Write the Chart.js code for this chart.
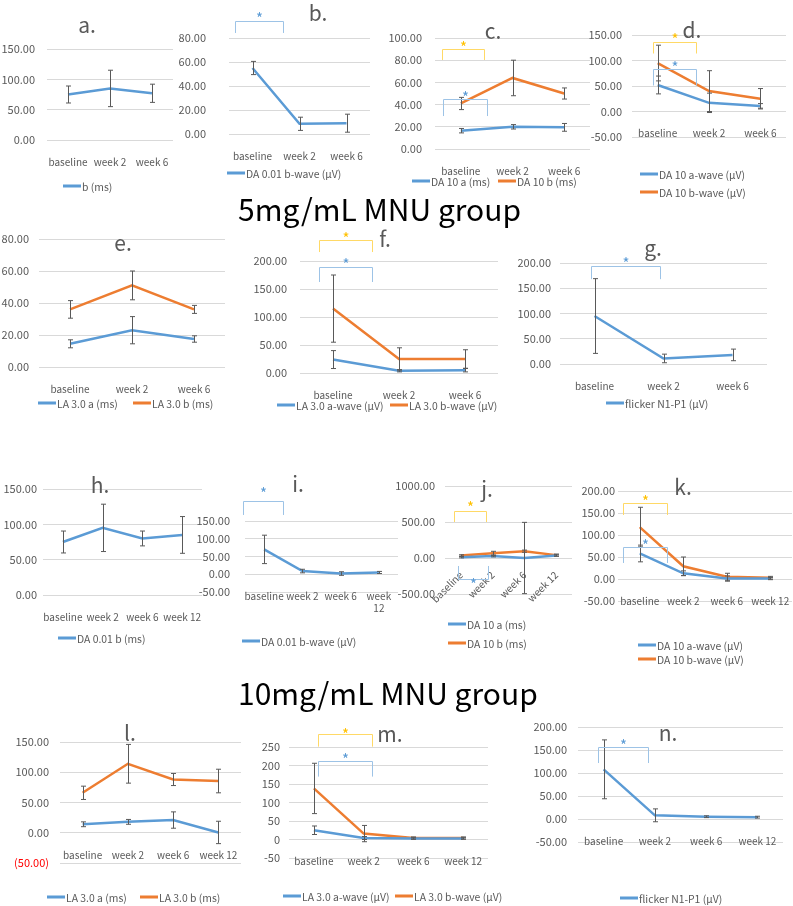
<!DOCTYPE html>
<html>
<head>
<meta charset="utf-8">
<script src="https://cdn.jsdelivr.net/npm/chart.js@4.4.0/dist/chart.umd.min.js"></script>
<style>
body { margin: 0; background: #fff; width: 793px; height: 906px; position: relative; overflow: hidden;
       font-family: "Noto Sans CJK KR", "Noto Sans", sans-serif; }
canvas { position: absolute; }
.ttl { position: absolute; color: #595959; font-size: 21px; transform: translate(-50%, -50%); white-space: nowrap; }
.grp { position: absolute; color: #000; font-size: 30px; transform: translateY(-50%); white-space: nowrap; }
.lg { position: absolute; color: #595959; font-size: 10.4px; transform: translateY(-50%); white-space: nowrap;
      display: flex; align-items: center; }
.lg i { display: inline-block; width: 18px; height: 2.5px; margin-right: 1px; }
</style>
</head>
<body>
<script>
const BLUE = '#5B9BD5';
const ORANGE = '#ED7D31';
const FONT = '"Noto Sans CJK KR", "Noto Sans", sans-serif';

// categories
const weeks3 = ['baseline', 'week 2', 'week 6'];
const weeks4 = ['baseline', 'week 2', 'week 6', 'week 12'];
const weeks4wrap = ['baseline', 'week 2', 'week 6', ['week', '12']];

// 5mg/mL group
const aB = [75, 85, 77],        aBErr = [14, 30, 15];
const bB = [55, 8.5, 9],        bBErr = [5.5, 5.5, 7.5];
const cA = [16.5, 20, 19.5],    cAErr = [2, 2, 3.5];
const cB = [41, 64, 50],        cBErr = [5.5, 16, 5];
const dA = [52, 17, 11],        dAErr = [17.5, 19, 4.5];
const dB = [95, 40, 25],        dBErr = [35, 40, 20];
const eA = [14.5, 23, 17.5],    eAErr = [2.5, 8.5, 2];
const eB = [36, 51, 36],        eBErr = [5.5, 9, 2.5];
const fA = [24, 4, 5],          fAErr = [16, 2, 3];
const fB = [115, 25, 25],       fBErr = [60, 20, 16.5];
const gF = [95, 11, 18],        gFErr = [74, 8.5, 11.5];

// 10mg/mL group
const hB = [75, 95, 80, 85],    hBErr = [15.5, 33.5, 10.5, 26];
const iB = [70, 9, 2, 5],       iBErr = [40, 5, 5, 3];
const jA = [12, 28, 0, 35],     jAErr = [10, 12, 495, 10];
const jB = [35, 65, 95, 40],    jBErr = [10, 28, 15, 15];
const kA = [58, 13, 1, 1],      kAErr = [19, 5.5, 6, 2.5];
const kB = [118, 29, 5, 3],     kBErr = [45, 21, 8, 3];
const lA = [14, 18, 21, 0.5],   lAErr = [4, 4, 13.5, 18.5];
const lB = [66, 114, 88, 85.5], lBErr = [11, 32, 10, 19.5];
const mA = [25, 4, 3, 3],       mAErr = [11.5, 4, 2, 2];
const mB = [138, 16, 4, 4],     mBErr = [68, 22, 3, 3];
const nF = [108, 8, 5, 4],      nFErr = [64, 14, 2, 2];

// significance brackets, in category index / value units
const bSig = [{c: 'b', from: -0.37, to: 0.65, top: 94.2, bot: 84.2, star: 97.5}];
const cSig = [{c: 'y', from: -0.365, to: 0.448, top: 90.1, bot: 80.2, star: 92.8},
              {c: 'b', from: -0.345, to: 0.506, top: 45, bot: 29.7, star: 47.7}];
const dSig = [{c: 'y', from: -0.09, to: 0.747, top: 137, bot: 113.7, star: 145},
              {c: 'b', from: -0.09, to: 0.747, top: 82.4, bot: 51, star: 90}];
const fSig = [{c: 'y', from: -0.212, to: 0.591, top: 237.5, bot: 216, star: 243},
              {c: 'b', from: -0.212, to: 0.591, top: 189, bot: 162.5, star: 196}];
const gSig = [{c: 'b', from: -0.057, to: 0.946, top: 194, bot: 168, star: 202}];
const iSig = [{c: 'b', from: -0.552, to: 0.493, top: 206, bot: 167, star: 232}];
const jSig = [{c: 'y', from: -0.217, to: 0.791, top: 653, bot: 500, star: 722},
              {c: 'b', from: -0.09, to: 0.854, top: -292, bot: -111, star: -347}];
const kSig = [{c: 'y', from: -0.385, to: 0.626, top: 172.7, bot: 145.5, star: 179.5},
              {c: 'b', from: -0.385, to: 0.626, top: 72.7, bot: 36.4, star: 79.5}];
const mSig = [{c: 'y', from: 0.083, to: 1.168, top: 284, bot: 251, star: 289},
              {c: 'b', from: 0.083, to: 1.168, top: 211, bot: 170, star: 219}];
const nSig = [{c: 'b', from: -0.11, to: 0.866, top: 156.5, bot: 121.7, star: 163}];

const SIGCOL = {b: ['#9DC3E6', '#5B9BD5'], y: ['#FFD966', '#FFC000']};

// box = [left, right, top, bottom] of plot area in page px
const panels = [
  {t: 'a.', tp: [87, 24], box: [47, 173, 49, 140], y: [0, 150, 50], yPad: 12, cats: weeks3,
   series: [['b (ms)', aB, aBErr, BLUE]], leg: [[63, 186]]},
  {t: 'b.', tp: [318, 12], box: [229, 370, 38, 134], y: [0, 80, 20], yPad: 23, cats: weeks3, sig: bSig,
   series: [['DA 0.01 b-wave (μV)', bB, bBErr, BLUE]], leg: [[227, 173]]},
  {t: 'c.', tp: [493, 30], box: [435, 590, 38, 149], y: [0, 100, 20], yPad: 13, cats: weeks3, sig: cSig,
   series: [['DA 10 a (ms)', cA, cAErr, BLUE], ['DA 10 b (ms)', cB, cBErr, ORANGE]], leg: [[412, 181], [498, 181]]},
  {t: 'd.', tp: [692, 29], box: [632, 786, 35, 137], y: [-50, 150, 50], yPad: 10, cats: weeks3, sig: dSig,
   series: [['DA 10 a-wave (μV)', dA, dAErr, BLUE], ['DA 10 b-wave (μV)', dB, dBErr, ORANGE]], leg: [[640, 174], [640, 192]]},
  {t: 'e.', tp: [123, 242], box: [39, 225, 239, 367], y: [0, 80, 20], yPad: 10, cats: weeks3,
   series: [['LA 3.0 a (ms)', eA, eAErr, BLUE], ['LA 3.0 b (ms)', eB, eBErr, ORANGE]], leg: [[38, 403], [133, 403]]},
  {t: 'f.', tp: [385, 238], box: [300, 498, 261, 373], y: [0, 200, 50], yPad: 13, cats: weeks3, sig: fSig,
   series: [['LA 3.0 a-wave (μV)', fA, fAErr, BLUE], ['LA 3.0 b-wave (μV)', fB, fBErr, ORANGE]], leg: [[277, 405], [390, 405]]},
  {t: 'g.', tp: [653, 247], box: [560, 767, 263, 364], y: [0, 200, 50], yPad: 9, cats: weeks3, sig: gSig,
   series: [['flicker N1-P1 (μV)', gF, gFErr, BLUE]], leg: [[606, 403]]},
  {t: 'h.', tp: [100, 484], box: [43, 202, 489, 595], y: [0, 150, 50], yPad: 6, cats: weeks4,
   series: [['DA 0.01 b (ms)', hB, hBErr, BLUE]], leg: [[58, 638]]},
  {t: 'i.', tp: [298, 483], box: [245, 398, 521, 592], y: [-50, 150, 50], yPad: 15, cats: weeks4wrap, sig: iSig,
   series: [['DA 0.01 b-wave (μV)', iB, iBErr, BLUE]], leg: [[242, 641]]},
  {t: 'j.', tp: [487, 488], box: [445, 572, 486, 594], y: [-500, 1000, 500], yPad: 10, cats: weeks4, sig: jSig, rot: 45,
   series: [['DA 10 a (ms)', jA, jAErr, BLUE], ['DA 10 b (ms)', jB, jBErr, ORANGE]], leg: [[448, 624], [448, 643]]},
  {t: 'k.', tp: [683, 486], box: [618, 792, 491, 601], y: [-50, 200, 50], yPad: 3, cats: weeks4, sig: kSig,
   series: [['DA 10 a-wave (μV)', kA, kAErr, BLUE], ['DA 10 b-wave (μV)', kB, kBErr, ORANGE]], leg: [[638, 645], [638, 659]]},
  {t: 'l.', tp: [130, 732], box: [60, 241, 742, 863], y: [-50, 150, 50], yPad: 11, cats: weeks4, negRed: true,
   series: [['LA 3.0 a (ms)', lA, lAErr, BLUE], ['LA 3.0 b (ms)', lB, lBErr, ORANGE]], leg: [[47, 897], [140, 897]]},
  {t: 'm.', tp: [390, 733], box: [289, 488, 747, 858], y: [-50, 250, 50], yPad: 9, cats: weeks4, sig: mSig, ints: true,
   series: [['LA 3.0 a-wave (μV)', mA, mAErr, BLUE], ['LA 3.0 b-wave (μV)', mB, mBErr, ORANGE]], leg: [[283, 896], [395, 896]]},
  {t: 'n.', tp: [668, 732], box: [578, 783, 727, 842], y: [-50, 200, 50], yPad: 11, cats: weeks4, sig: nSig,
   series: [['flicker N1-P1 (μV)', nF, nFErr, BLUE]], leg: [[620, 898]]}
];

const errorBars = {
  id: 'errorBars',
  afterDatasetsDraw(chart) {
    const ctx = chart.ctx, ys = chart.scales.y;
    ctx.save();
    ctx.strokeStyle = '#595959';
    ctx.lineWidth = 1;
    chart.data.datasets.forEach((ds, i) => {
      if (!ds.err) return;
      chart.getDatasetMeta(i).data.forEach((pt, j) => {
        const x = Math.round(pt.x) + 0.5;
        const y1 = ys.getPixelForValue(ds.data[j] + ds.err[j]);
        const y2 = ys.getPixelForValue(ds.data[j] - ds.err[j]);
        ctx.beginPath();
        ctx.moveTo(x, y1); ctx.lineTo(x, y2);
        ctx.moveTo(x - 2.5, y1); ctx.lineTo(x + 2.5, y1);
        ctx.moveTo(x - 2.5, y2); ctx.lineTo(x + 2.5, y2);
        ctx.stroke();
      });
    });
    ctx.restore();
  }
};

function sigPlugin(list) {
  return {
    id: 'sig',
    afterDraw(chart) {
      if (!list) return;
      const ctx = chart.ctx, xs = chart.scales.x, ys = chart.scales.y;
      ctx.save();
      list.forEach(s => {
        const [line, star] = SIGCOL[s.c];
        const x1 = Math.round(xs.getPixelForValue(s.from)) + 0.5;
        const x2 = Math.round(xs.getPixelForValue(s.to)) + 0.5;
        const yt = Math.round(ys.getPixelForValue(s.top)) + 0.5;
        const yb = ys.getPixelForValue(s.bot);
        ctx.strokeStyle = line;
        ctx.lineWidth = 1;
        ctx.beginPath();
        ctx.moveTo(x1, yb); ctx.lineTo(x1, yt); ctx.lineTo(x2, yt); ctx.lineTo(x2, yb);
        ctx.stroke();
        ctx.fillStyle = star;
        ctx.font = '15px ' + FONT;
        ctx.textAlign = 'center';
        ctx.textBaseline = 'alphabetic';
        ctx.fillText('*', (x1 + x2) / 2, ys.getPixelForValue(s.star) + 7);
      });
      ctx.restore();
    }
  };
}

const PAD_T = 45, PAD_B = 55, PAD_R = 10, YW = 60;

panels.forEach(p => {
  const [L, R, T, B] = p.box;
  const cv = document.createElement('canvas');
  cv.width = YW + (R - L) + PAD_R;
  cv.height = PAD_T + (B - T) + PAD_B;
  cv.style.left = (L - YW) + 'px';
  cv.style.top = (T - PAD_T) + 'px';
  document.body.appendChild(cv);

  new Chart(cv, {
    type: 'line',
    data: {
      labels: p.cats,
      datasets: p.series.map(([label, data, err, color]) => ({
        label, data, err,
        borderColor: color,
        backgroundColor: color,
        borderWidth: 2.5,
        pointRadius: 0,
        tension: 0
      }))
    },
    options: {
      responsive: false,
      animation: false,
      devicePixelRatio: 1,
      layout: {padding: {top: PAD_T, bottom: PAD_B, right: PAD_R, left: 0}},
      plugins: {legend: {display: false}, tooltip: {enabled: false}},
      scales: {
        x: {
          offset: true,
          position: {y: 0},
          grid: {display: false},
          border: {display: false},
          ticks: {
            autoSkip: false,
            padding: p.rot ? 3 : 8,
            minRotation: p.rot || 0,
            maxRotation: p.rot || 0,
            color: '#595959',
            font: {size: 10, family: FONT}
          }
        },
        y: {
          min: p.y[0], max: p.y[1],
          afterFit: s => { s.width = YW; },
          grid: {color: '#D9D9D9', drawTicks: false},
          border: {display: false},
          ticks: {
            stepSize: p.y[2],
            padding: p.yPad,
            color: c => (p.negRed && c.tick.value < 0) ? '#FF0000' : '#595959',
            font: {size: 11, family: FONT},
            callback: v => {
              if (p.ints) return String(v);
              if (p.negRed && v < 0) return '(' + Math.abs(v).toFixed(2) + ')';
              return v.toFixed(2);
            }
          }
        }
      }
    },
    plugins: [errorBars, sigPlugin(p.sig)]
  });

  const t = document.createElement('div');
  t.className = 'ttl';
  t.textContent = p.t;
  t.style.left = p.tp[0] + 'px';
  t.style.top = p.tp[1] + 'px';
  document.body.appendChild(t);

  p.series.forEach(([label, , , color], k) => {
    const lg = document.createElement('div');
    lg.className = 'lg';
    lg.style.left = p.leg[k][0] + 'px';
    lg.style.top = p.leg[k][1] + 'px';
    lg.innerHTML = '<i style="background:' + color + '"></i>';
    lg.appendChild(document.createTextNode(label));
    document.body.appendChild(lg);
  });
});

[['5mg/mL MNU group', 238, 208], ['10mg/mL MNU group', 238, 692]].forEach(([txt, x, y]) => {
  const g = document.createElement('div');
  g.className = 'grp';
  g.textContent = txt;
  g.style.left = x + 'px';
  g.style.top = y + 'px';
  document.body.appendChild(g);
});
</script>
</body>
</html>
